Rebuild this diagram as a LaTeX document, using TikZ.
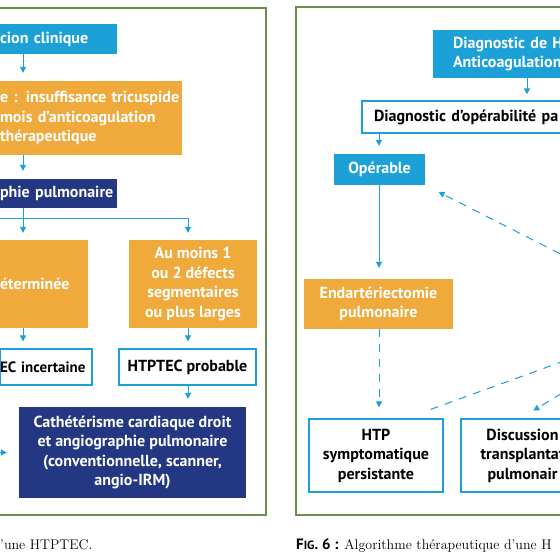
\documentclass[tikz,border=0pt]{standalone}
\usepackage{fontspec}
\setsansfont{PT Sans}
\usetikzlibrary{arrows.meta}

\definecolor{hcyan}{RGB}{27,160,216}
\definecolor{horange}{RGB}{240,170,60}
\definecolor{hnavy}{RGB}{35,55,130}
\definecolor{hgreen}{RGB}{110,140,80}

\tikzset{
  boxtxt/.style={font=\sffamily\fontsize{16}{19.5}\selectfont\bfseries, inner sep=0pt},
  boxcyan/.style={boxtxt, fill=hcyan, text=white},
  boxorange/.style={boxtxt, fill=horange, text=white},
  boxnavy/.style={boxtxt, fill=hnavy, text=white},
  boxline/.style={boxtxt, draw=hcyan, line width=1.2pt, fill=white, text=black},
  % box cut by the left edge: text starts at x=0
  cutleft/.style={inner xsep=0pt, align=left},
  arr/.style={hcyan, line width=1pt, -{Triangle[length=6pt,width=6pt]}, shorten >=8pt},
  dasharr/.style={arr, dash pattern=on 8pt off 7pt},
  dashline/.style={hcyan, line width=1pt, dash pattern=on 8pt off 7pt},
  frame/.style={hgreen, line width=1.5pt},
  capt/.style={font=\rmfamily\fontsize{14}{16}\selectfont, inner sep=0pt}
}

\begin{document}
\begin{tikzpicture}[x=1pt,y=-1pt]
\useasboundingbox (0,0) rectangle (560,560);
\fill[white] (0,0) rectangle (560,560);
\clip (0,0) rectangle (560,560);

% frames of the two figures
\draw[frame] (-20,8) rectangle (266,515);
\draw[frame] (296,7) rectangle (600,515);

% columns of the arrows
\coordinate (xl) at (23,0);
\coordinate (xr) at (188,0);
\coordinate (xm) at (379,0);
\coordinate (xd) at (527,0);

% left figure
\node[boxcyan, cutleft, text width=117pt, minimum height=30pt] (clin) at (58.5,39) {cion clinique};
\node[boxorange, cutleft, text width=182pt, minimum height=74pt] (echo) at (91,118)
  {e : insuffisance tricuspide\\mois d’anticoagulation\\thérapeutique};
\node[boxnavy, cutleft, text width=117pt, minimum height=29pt] (scinti) at (58.5,193.5) {phie pulmonaire};
\node[boxorange, cutleft, text width=88pt, minimum height=88pt] (indet) at (44,284) {éterminée};
\node[boxorange, minimum width=128pt, minimum height=88pt, align=center] (defects) at (193,284)
  {Au moins 1\\ou 2 défects\\segmentaires\\ou plus larges};
\node[boxline, cutleft, text width=92pt, minimum height=36pt,
  font=\sffamily\fontsize{15}{19.5}\selectfont\bfseries] (incert) at (46,367) {EC incertaine};
\node[boxline, minimum width=137pt, minimum height=36pt] (prob) at (187.5,367) {HTPTEC probable};
\node[boxnavy, minimum width=227pt, minimum height=91pt, align=center] (cath) at (132.5,452.5)
  {Cathétérisme cardiaque droit\\et angiographie pulmonaire\\(conventionnelle, scanner,\\angio-IRM)};

\draw[arr] (clin.south -| xl) -- (echo.north -| xl);
\draw[arr] (echo.south -| xl) -- (scinti.north -| xl);
\draw[arr, shorten >=7pt] (scinti.south -| xl) -- (indet.north -| xl);
\coordinate (splitw) at (-20,218);
\draw[arr, shorten >=7pt] (splitw) -| (defects.north -| xr);
\draw[arr, shorten >=7pt] (indet.south -| xl) -- (incert.north -| xl);
\draw[arr, shorten >=7pt] (defects.south -| xr) -- (prob.north -| xr);
\draw[arr] (prob.south -| xr) -- (cath.north -| xr);
\coordinate (cathw) at (-20,452.5);
\draw[arr, shorten >=12pt] (cathw) -- (cath.west);

% right figure
\node[boxcyan, text width=127pt, inner xsep=20pt, minimum height=48pt, align=left] (diag) at (516.5,54)
  {Diagnostic de H\\Anticoagulation};
\node[boxline, text width=214pt, inner xsep=12pt, minimum height=32pt, align=left] (oper) at (481,117) {Diagnostic d’opérabilité pa};
\node[boxcyan, minimum width=91pt, minimum height=31pt] (operable) at (379.5,169.5) {Opérable};
\node[boxorange, minimum width=149pt, minimum height=50pt, align=center] (endart) at (378.5,304)
  {Endartériectomie\\pulmonaire};
\node[boxline, minimum width=134pt, minimum height=73pt, align=center] (htp) at (376,455.5)
  {HTP\\symptomatique\\persistante};
\node[boxline, minimum width=123pt, minimum height=73pt, align=center] (transp) at (522.5,455.5)
  {Discussion\\transplantat\\pulmonair};

\draw[arr, shorten >=6pt] (diag.south -| xd) -- (oper.north -| xd);
\draw[arr] (oper.south -| xm) -- (operable.north -| xm);
\draw[arr, shorten >=11pt] (operable.south -| xm) -- (endart.north -| xm);
\draw[dasharr, shorten >=11pt] (endart.south -| xm) -- (htp.north -| xm);
\coordinate (offa) at (600,274);
\draw[dasharr, shorten >=15pt] (offa) -- (operable.south east);
\coordinate (offb) at (600,348);
\draw[dashline] ([shift={(-13,-9)}]htp.north east) -- (offb);
\coordinate (offc) at (600,370);
\draw[dasharr, shorten >=15pt] (offc) -- ([xshift=-2pt]transp.north);

% captions
\node[capt, anchor=base west] (capl) at (0,549) {’une HTPTEC.};
\node[capt, anchor=base west] (capr) at (296,549)
  {{\sffamily\bfseries\fontsize{15}{16}\selectfont F{\fontsize{12}{14}\selectfont IG}. 6 :} Algorithme thérapeutique d’une H};
\end{tikzpicture}
\end{document}
